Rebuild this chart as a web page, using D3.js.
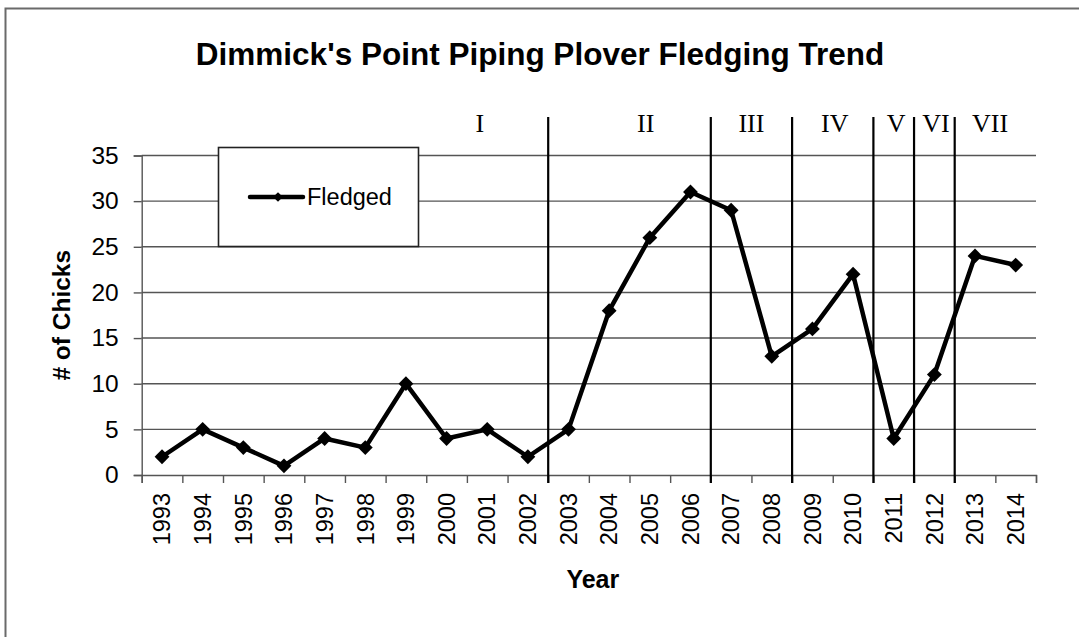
<!DOCTYPE html>
<html>
<head>
<meta charset="utf-8">
<script src="https://cdn.jsdelivr.net/npm/d3@7"></script>
<style>
  html, body { margin: 0; padding: 0; background: #fff; overflow: hidden; }
  svg { display: block; }
  text { font-family: "Liberation Sans", Arial, sans-serif; fill: #000; }
</style>
</head>
<body>
<svg id="chart" width="1079" height="637"></svg>
<script>
// ---- data ----
const years = ["1993","1994","1995","1996","1997","1998","1999","2000","2001","2002","2003","2004","2005","2006","2007","2008","2009","2010","2011","2012","2013","2014"];
const fledged = [2,5,3,1,4,3,10,4,5,2,5,18,26,31,29,13,16,22,4,11,24,23];
const yTicks = [0,5,10,15,20,25,30,35];
const phaseLabels = ["I","II","III","IV","V","VI","VII"];
// phase boundaries: first year of each new phase
const phaseStarts = ["2003","2007","2009","2011","2012","2013"];
// label anchor (fractional year index) for each phase
const phaseLabelAt = [8.32, 12.4, 15.0, 17.05, 18.56, 19.54, 20.87];
const seriesName = "Fledged";
const titleText = "Dimmick's Point Piping Plover Fledging Trend";

// ---- layout ----
const svg = d3.select("#chart");
const L = 141.7, R = 1036, T = 155.5, B = 475;

// outer frame
svg.append("rect").attr("x", 5.5).attr("y", 8.5).attr("width", 1100).attr("height", 700)
  .attr("fill", "#fff").attr("stroke", "#6a6a6a").attr("stroke-width", 2);

const x = d3.scaleBand().domain(years).range([L, R]).padding(0);
const xi = d3.scaleLinear().domain([0, years.length]).range([L, R]);
const y = d3.scaleLinear().domain([0, 35]).range([B, T]);

// gridlines
svg.append("g").selectAll("line").data(yTicks.filter(d => d > 0)).join("line")
  .attr("x1", L).attr("x2", R).attr("y1", d => y(d)).attr("y2", d => y(d))
  .attr("stroke", "#555").attr("stroke-width", 1.4);

// y axis
const yAxis = svg.append("g").attr("transform", `translate(${L},0)`)
  .call(d3.axisLeft(y).tickValues(yTicks).tickSize(8).tickPadding(15));
yAxis.select(".domain").attr("stroke", "#555").attr("stroke-width", 1.4);
yAxis.selectAll(".tick line").attr("stroke", "#555").attr("stroke-width", 1.4);
yAxis.selectAll(".tick text").attr("font-size", 24.5).attr("font-family", "Liberation Sans, Arial, sans-serif").attr("fill", "#000");

// x axis tick marks at band boundaries
const xAxisTicks = svg.append("g").attr("transform", `translate(0,${B})`)
  .call(d3.axisBottom(xi).tickValues(d3.range(0, years.length + 1)).tickSize(8).tickFormat(""));
xAxisTicks.select(".domain").attr("stroke", "#555").attr("stroke-width", 1.4);
xAxisTicks.selectAll(".tick line").attr("stroke", "#555").attr("stroke-width", 1.4);

// x axis labels (rotated)
const xAxisLabels = svg.append("g").attr("transform", `translate(0,${B})`)
  .call(d3.axisBottom(x).tickSize(0).tickPadding(0));
xAxisLabels.select(".domain").remove();
xAxisLabels.selectAll(".tick text")
  .attr("font-size", 23.5).attr("font-family", "Liberation Sans, Arial, sans-serif").attr("fill", "#000")
  .attr("transform", "rotate(-90)")
  .attr("x", -18).attr("y", 0).attr("dy", "0.35em")
  .attr("text-anchor", "end");

// phase separators
svg.append("g").selectAll("line").data(phaseStarts).join("line")
  .attr("x1", d => x(d)).attr("x2", d => x(d))
  .attr("y1", 117).attr("y2", B + 8)
  .attr("stroke", "#000").attr("stroke-width", 2.2);

// phase labels
svg.append("g").selectAll("text").data(phaseLabels).join("text")
  .attr("x", (d, i) => xi(phaseLabelAt[i]))
  .attr("y", 132)
  .attr("text-anchor", "middle")
  .style("font-family", "'Liberation Serif', 'Times New Roman', serif")
  .attr("font-size", 26)
  .attr("fill", "#111")
  .text(d => d);

// line
const pts = years.map((yr, i) => ({yr, v: fledged[i]}));
svg.append("path").datum(pts)
  .attr("fill", "none").attr("stroke", "#000").attr("stroke-width", 4.5)
  .attr("stroke-linejoin", "round")
  .attr("d", d3.line().x(d => x(d.yr) + x.bandwidth() / 2).y(d => y(d.v)));

// markers
const diamond = d3.symbol().type(d3.symbolDiamond2).size(140);
svg.append("g").selectAll("path").data(pts).join("path")
  .attr("transform", d => `translate(${x(d.yr) + x.bandwidth() / 2},${y(d.v)})`)
  .attr("d", diamond).attr("fill", "#000");

// legend
const lg = svg.append("g");
lg.append("rect").attr("x", 218.5).attr("y", 147.5).attr("width", 200).attr("height", 99)
  .attr("fill", "#fff").attr("stroke", "#222").attr("stroke-width", 1.6);
lg.append("line").attr("x1", 250).attr("x2", 303).attr("y1", 197).attr("y2", 197)
  .attr("stroke", "#000").attr("stroke-width", 4.5).attr("stroke-linecap", "round");
lg.append("path").attr("transform", "translate(278,197)")
  .attr("d", d3.symbol().type(d3.symbolDiamond2).size(60)).attr("fill", "#000");
lg.append("text").attr("x", 307).attr("y", 205).attr("font-size", 23.5).text(seriesName);

// title
svg.append("text").attr("x", 540).attr("y", 65).attr("text-anchor", "middle")
  .attr("font-size", 31.5).attr("font-weight", "bold").text(titleText);

// axis titles
svg.append("text").attr("transform", `translate(70,${(T + B) / 2}) rotate(-90)`)
  .attr("text-anchor", "middle").attr("font-size", 24.5).attr("font-weight", "bold").text("# of Chicks");
svg.append("text").attr("x", (L + R) / 2 + 4).attr("y", 588).attr("text-anchor", "middle")
  .attr("font-size", 25).attr("font-weight", "bold").text("Year");
</script>
</body>
</html>
